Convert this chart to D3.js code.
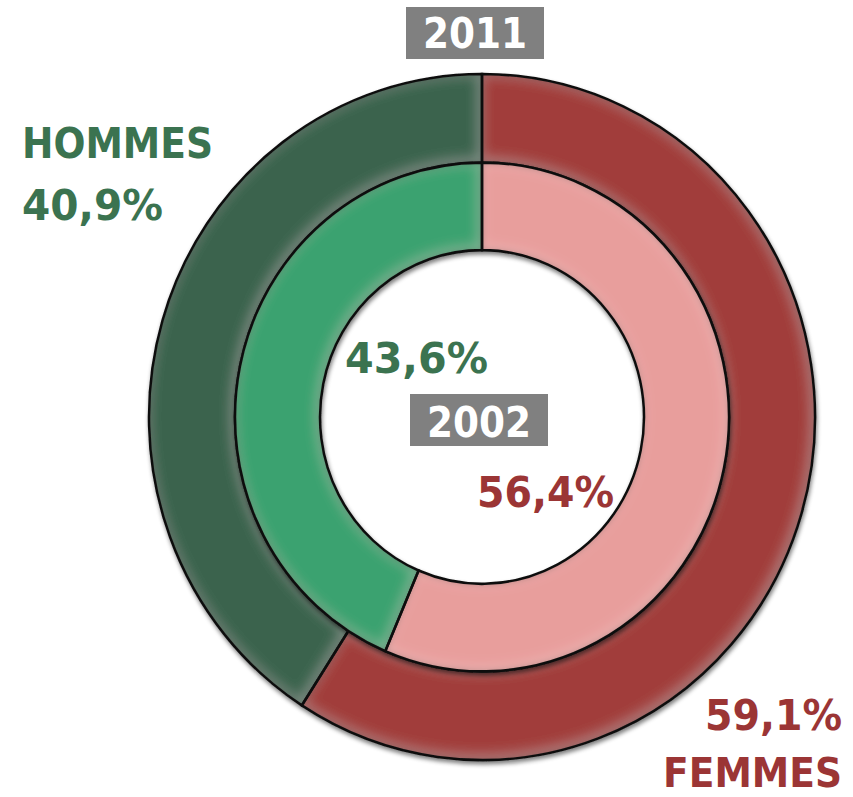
<!DOCTYPE html>
<html><head><meta charset="utf-8">
<script src="https://cdn.jsdelivr.net/npm/d3@7"></script>
<style>
html,body{margin:0;padding:0;background:#fff;}
svg{display:block;}
text{font-family:'DejaVu Sans Condensed','DejaVu Sans',Verdana,sans-serif;font-weight:bold;}
</style></head>
<body>
<script>
// ---- data ----
const categories = ["HOMMES", "FEMMES"];
const values2011 = [40.9, 59.1];
const values2002 = [43.6, 56.4];
const years = ["2011", "2002"];

// ---- styles ----
const W = 853, H = 797;
const cx = 482, cy = 417, sy = 1.03;
const rOuter = 333, rMid = 247, rInner = 162;
const outerColors = ["#3b634e", "#a13d3a"];
const innerColors = ["#3aa26f", "#e89e9c"];
const textColors = ["#3b7350", "#9b3535"];

const fmt = v => d3.format(".1f")(v).replace(".", ",") + "%";

const svg = d3.select("body").append("svg").attr("width", W).attr("height", H);
const defs = svg.append("defs");
const f = defs.append("filter").attr("id", "bevel")
  .attr("x", "-10%").attr("y", "-10%").attr("width", "120%").attr("height", "120%");
f.append("feFlood").attr("flood-color", "#000").attr("result", "fl");
f.append("feComposite").attr("in", "fl").attr("in2", "SourceAlpha").attr("operator", "out").attr("result", "outside");
f.append("feGaussianBlur").attr("in", "outside").attr("stdDeviation", 3.5).attr("result", "ob");
f.append("feComposite").attr("in", "ob").attr("in2", "SourceAlpha").attr("operator", "in").attr("result", "inner");
f.append("feColorMatrix").attr("in", "inner").attr("type", "matrix")
  .attr("values", "0 0 0 0 0  0 0 0 0 0  0 0 0 0 0  0 0 0 0.55 0").attr("result", "innerS");
f.append("feGaussianBlur").attr("in", "outside").attr("stdDeviation", 7).attr("result", "ob2");
f.append("feOffset").attr("in", "ob2").attr("dx", -2).attr("dy", -2).attr("result", "ob2o");
f.append("feComposite").attr("in", "ob2o").attr("in2", "SourceAlpha").attr("operator", "in").attr("result", "hl");
f.append("feColorMatrix").attr("in", "hl").attr("type", "matrix")
  .attr("values", "0 0 0 0 1  0 0 0 0 1  0 0 0 0 1  0 0 0 0.22 0").attr("result", "hlS");
const m = f.append("feMerge");
m.append("feMergeNode").attr("in", "SourceGraphic");
m.append("feMergeNode").attr("in", "hlS");
m.append("feMergeNode").attr("in", "innerS");

const ds = defs.append("filter").attr("id", "drop")
  .attr("x", "-10%").attr("y", "-10%").attr("width", "120%").attr("height", "120%");
ds.append("feGaussianBlur").attr("in", "SourceAlpha").attr("stdDeviation", 2).attr("result", "b");
ds.append("feOffset").attr("in", "b").attr("dx", 1).attr("dy", 3).attr("result", "bo");
ds.append("feColorMatrix").attr("in", "bo").attr("type", "matrix")
  .attr("values", "0 0 0 0 0  0 0 0 0 0  0 0 0 0 0  0 0 0 0.5 0").attr("result", "bs");
const dm = ds.append("feMerge");
dm.append("feMergeNode").attr("in", "bs");
dm.append("feMergeNode").attr("in", "SourceGraphic");

function makePie(vals) {
  const total = d3.sum(vals);
  const start = -2 * Math.PI * vals[0] / total;
  return d3.pie().sort(null).startAngle(start).endAngle(start + 2 * Math.PI)(vals);
}

const g = svg.append("g").attr("transform", `translate(${cx},${cy}) scale(1,${sy})`);

function ring(vals, r0, r1, colors) {
  const arc = d3.arc().innerRadius(r0).outerRadius(r1);
  const rg = g.append("g").attr("filter", "url(#drop)");
  rg.selectAll("path.s").data(makePie(vals)).enter().append("path")
    .attr("d", arc)
    .attr("fill", (d, i) => colors[i])
    .attr("filter", "url(#bevel)");
  rg.selectAll("path.o").data(makePie(vals)).enter().append("path")
    .attr("d", arc)
    .attr("fill", "none")
    .attr("stroke", "#111")
    .attr("stroke-width", 2.5);
}
ring(values2011, rMid, rOuter, outerColors);
ring(values2002, rInner, rMid, innerColors);

function label(txt, x, y, anchor, color, len, size) {
  return svg.append("text").attr("x", x).attr("y", y).attr("text-anchor", anchor)
    .attr("fill", color).attr("font-size", size || 42)
    .attr("textLength", len).attr("lengthAdjust", "spacingAndGlyphs").text(txt);
}

// year boxes
function yearBox(txt, x0, y0, w, h, ty) {
  svg.append("rect").attr("x", x0).attr("y", y0).attr("width", w).attr("height", h).attr("fill", "#808080");
  label(txt, x0 + w / 2, ty, "middle", "#fff", 104);
}
yearBox(years[0], 406, 7, 138, 52, 48);
yearBox(years[1], 410, 394, 138, 52, 437);

// labels
label(categories[0], 22, 158, "start", textColors[0], 191);
label(fmt(values2011[0]), 22, 220, "start", textColors[0], 141);
label(fmt(values2002[0]), 345, 373, "start", textColors[0], 143);
label(fmt(values2002[1]), 477, 507, "start", textColors[1], 137);
label(fmt(values2011[1]), 842, 730, "end", textColors[1], 137);
label(categories[1], 842, 787, "end", textColors[1], 179, 40);
</script>
</body></html>
